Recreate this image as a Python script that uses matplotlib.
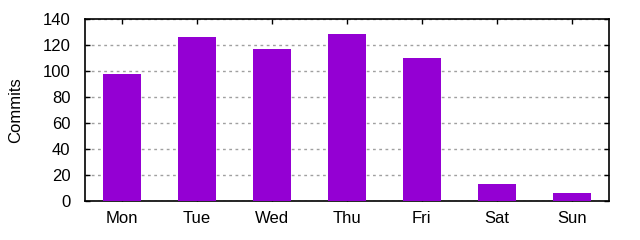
import matplotlib
matplotlib.use("Agg")
import matplotlib.pyplot as plt

plt.rcParams['font.family'] = ['Liberation Sans', 'DejaVu Sans']

dias = ["Mon", "Tue", "Wed", "Thu", "Fri", "Sat", "Sun"]
commits = [98, 126, 117, 129, 110, 13, 6]
yticks = [0, 20, 40, 60, 80, 100, 120, 140]

fig = plt.figure(figsize=(6.4, 2.4), dpi=100)
ax = fig.add_axes([84.5/640, 1-201/240, (609.3-84.5)/640, (201-19.3)/240])

pos = list(range(len(dias)))
ax.bar(pos, commits, width=0.5, color="#9400d3", zorder=3)

ax.set_xlim(-0.5, len(dias)-0.5)
ax.set_ylim(0, 140)
ax.set_xticks(pos)
ax.set_xticklabels(dias)
ax.set_yticks(yticks)
ax.yaxis.grid(True, linestyle=(0, (2, 2.5)), color="#a0a0a0", linewidth=1, zorder=0)
ax.tick_params(direction="in", top=True, right=True, length=3.5, width=1,
               labelsize=12, colors="black")
ax.tick_params(axis="x", pad=7)
ax.tick_params(axis="y", pad=10)
for s in ax.spines.values():
    s.set_linewidth(1.2)
ax.set_ylabel("Commits", fontsize=12, labelpad=14)

fig.savefig("out.png", dpi=100)
